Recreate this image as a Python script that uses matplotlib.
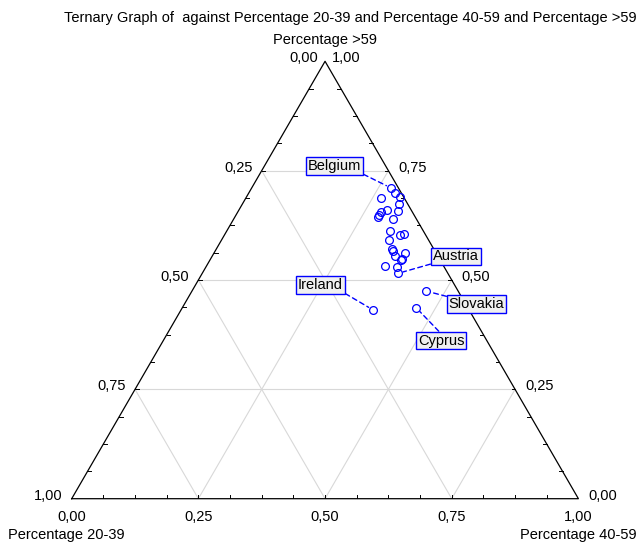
import matplotlib
matplotlib.use("Agg")
import matplotlib.pyplot as plt
import numpy as np

plt.rcParams["font.family"] = ["Liberation Sans", "DejaVu Sans"]
plt.rcParams["font.size"] = 10.5

# fractions (20-39, 40-59, >59)
pct_20_39 = [0.013, 0.011, 0.008, 0.047, 0.017, 0.047, 0.062, 0.029, 0.069,
             0.073, 0.045, 0.067, 0.078, 0.050, 0.041, 0.083, 0.083, 0.060,
             0.084, 0.079, 0.075, 0.115, 0.094, 0.099, 0.064, 0.102, 0.190]
pct_40_59 = [0.276, 0.289, 0.303, 0.266, 0.309, 0.292, 0.283, 0.314, 0.283,
             0.283, 0.315, 0.321, 0.330, 0.346, 0.354, 0.347, 0.350, 0.377,
             0.362, 0.377, 0.378, 0.352, 0.377, 0.386, 0.461, 0.461, 0.380]
pct_over_59 = [0.710, 0.700, 0.689, 0.687, 0.674, 0.661, 0.656, 0.658, 0.648,
               0.643, 0.640, 0.613, 0.592, 0.604, 0.605, 0.570, 0.567, 0.562,
               0.554, 0.545, 0.547, 0.533, 0.529, 0.515, 0.475, 0.437, 0.431]
point_names = ["Belgium"] + [None] * 22 + ["Austria", "Slovakia", "Cyprus", "Ireland"]

major_ticks = [0.0, 0.25, 0.5, 0.75, 1.0]
tick_labels = ["0,00", "0,25", "0,50", "0,75", "1,00"]

# label box offsets (pixels) and where the leader leaves the box
label_offsets = {
    "Belgium": ((-57, 22), (1, 0)),
    "Austria": ((58, 17), (0, 0)),
    "Slovakia": ((51, -13), (0, 1)),
    "Cyprus": ((25, -33), (0.5, 1)),
    "Ireland": ((-53, 25), (1, 0)),
}

BLUE = "#0000ff"
GRID = "#d8d8d8"


def to_xy(b, c):
    # bottom axis = 40-59, height = >59 (y scaled 0..1)
    return np.asarray(b) + np.asarray(c) / 2, np.asarray(c)


fig = plt.figure(figsize=(6.43, 5.47), dpi=100)
ax = fig.add_axes([71.7 / 643, 48.3 / 547, 506.7 / 643, 437.4 / 547])
ax.set_xlim(0, 1)
ax.set_ylim(0, 1)
ax.axis("off")

# grid lines
for v in [0.25, 0.5, 0.75]:
    ax.plot([v / 2, 1 - v / 2], [v, v], color=GRID, lw=0.8, zorder=1)
    ax.plot([v, v + (1 - v) / 2], [0, 1 - v], color=GRID, lw=0.8, zorder=1)
    ax.plot([v, v / 2], [0, v], color=GRID, lw=0.8, zorder=1)

# triangle
ax.plot([0, 1, 0.5, 0], [0, 0, 1, 0], color="black", lw=0.9, zorder=3, clip_on=False)

# small ticks every 1/16
for t in np.arange(1, 16) / 16:
    ax.plot([t, t], [0, 0.009], color="black", lw=0.7, zorder=3)
    ax.plot([t / 2, t / 2 + 0.007], [t, t], color="black", lw=0.7, zorder=3)
    ax.plot([1 - t / 2, 1 - t / 2 - 0.007], [t, t], color="black", lw=0.7, zorder=3)

# tick labels
for t, lab in zip(major_ticks, tick_labels):
    ax.annotate(lab, (t, 0), xytext=(0, -18), textcoords="offset pixels",
                ha="center", va="center")
for t, lab in zip(major_ticks[:-1], tick_labels[::-1][:-1]):
    ax.annotate(lab, (t / 2, t), xytext=(-9, 3), textcoords="offset pixels",
                ha="right", va="center")
for t, lab in zip(major_ticks[:-1], tick_labels[:-1]):
    ax.annotate(lab, (1 - t / 2, t), xytext=(10, 3), textcoords="offset pixels",
                ha="left", va="center")
ax.annotate("1,00", (0.5, 1), xytext=(7, 3), textcoords="offset pixels",
            ha="left", va="center")
ax.annotate("0,00", (0.5, 1), xytext=(-7, 3), textcoords="offset pixels",
            ha="right", va="center")

# data
x, y = to_xy(pct_40_59, pct_over_59)
ax.plot(x, y, "o", mfc="none", mec=BLUE, mew=0.9, ms=5.6, zorder=4, clip_on=False)

for xi, yi, name in zip(x, y, point_names):
    if name is None:
        continue
    (dx, dy), relpos = label_offsets[name]
    ax.annotate(name, (xi, yi), xytext=(dx, dy), textcoords="offset pixels",
                ha="center", va="center", zorder=5,
                bbox=dict(boxstyle="square,pad=0.13", fc="#f0f0f0", ec=BLUE, lw=1),
                arrowprops=dict(arrowstyle="-", color=BLUE, lw=1, ls=(0, (3.5, 2.5)),
                                relpos=relpos, shrinkA=0, shrinkB=4))

fig.text(350 / 643, 1 - 18 / 547,
         "Ternary Graph of  against Percentage 20-39 and Percentage 40-59 and Percentage >59",
         ha="center", va="center")
fig.text(325 / 643, 1 - 40 / 547, "Percentage >59", ha="center", va="center")
fig.text(8 / 643, 1 - 535 / 547, "Percentage 20-39", ha="left", va="center")
fig.text(637 / 643, 1 - 535 / 547, "Percentage 40-59", ha="right", va="center")

fig.savefig("out.png", dpi=100)
plt.close(fig)
